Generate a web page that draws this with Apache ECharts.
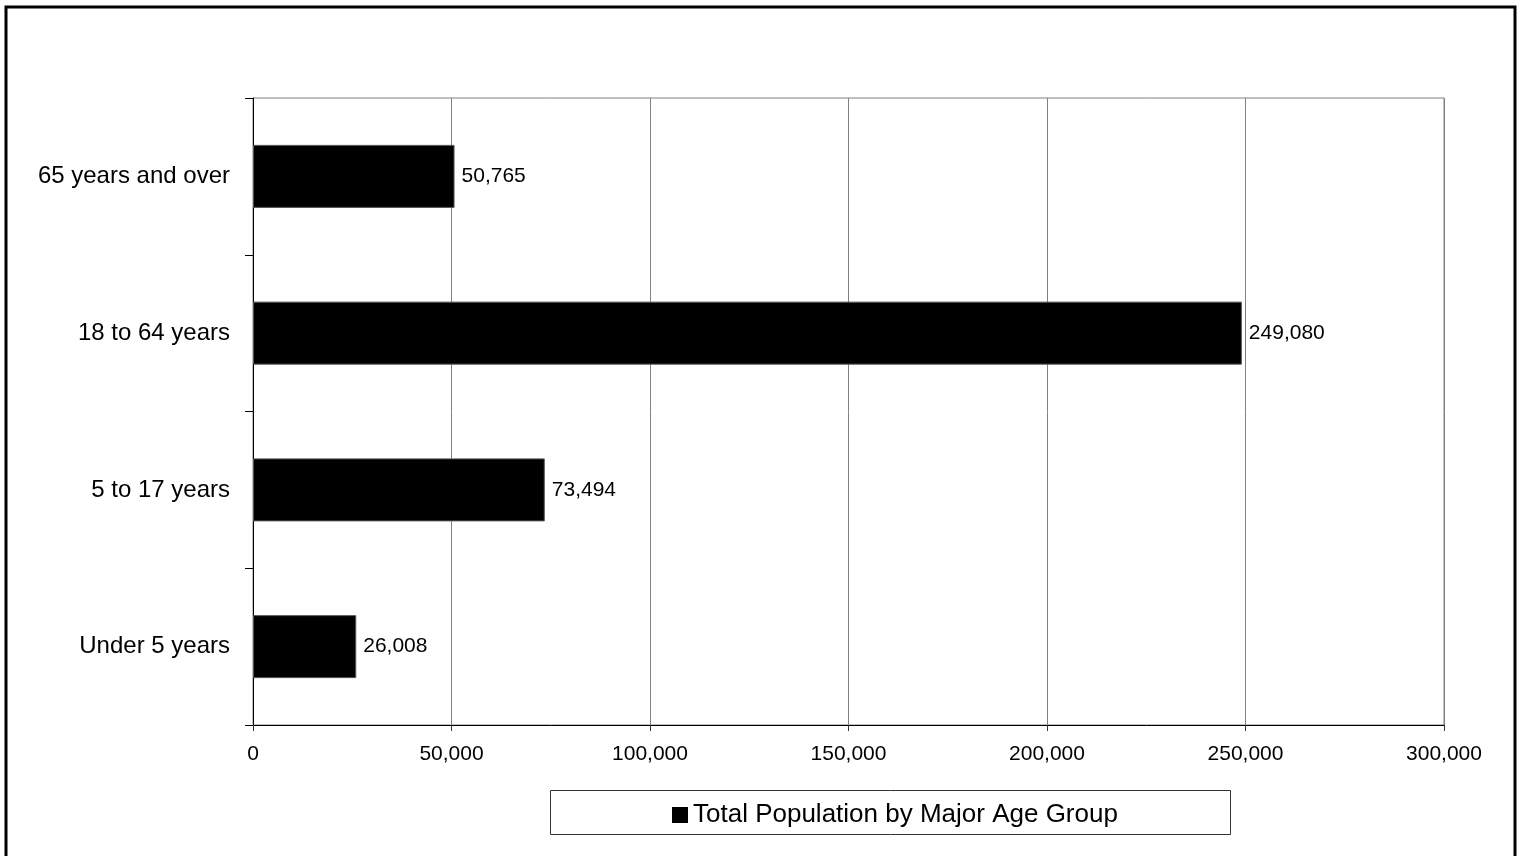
<!DOCTYPE html>
<html><head><meta charset="utf-8">
<script src="https://cdn.jsdelivr.net/npm/echarts@6/dist/echarts.min.js"></script>
<style>html,body{margin:0;padding:0;background:#fff}#c{width:1520px;height:856px}</style>
</head><body><div id="c"></div>
<script>
const categories = ['Under 5 years', '5 to 17 years', '18 to 64 years', '65 years and over'];
const values = [26008, 73494, 249080, 50765];
const seriesName = 'Total Population by Major Age Group';
const xTicks = [0, 50000, 100000, 150000, 200000, 250000, 300000];

const fmt = v => v.toLocaleString('en-US');
const chart = echarts.init(document.getElementById('c'), null, {renderer: 'canvas'});
chart.setOption({
  animation: false,
  backgroundColor: '#fff',
  textStyle: {fontFamily: 'Liberation Sans, Arial, sans-serif', color: '#000'},
  graphic: [
    {type: 'rect', shape: {x: 6, y: 7, width: 1509, height: 880}, style: {fill: 'none', stroke: '#000', lineWidth: 3}, z: 100},
    {type: 'rect', shape: {x: 550.5, y: 790.5, width: 680, height: 44}, style: {fill: '#fff', stroke: '#333', lineWidth: 1}, z: 0}
  ],
  grid: {left: 253, top: 98, width: 1191, height: 627, show: true, borderColor: '#808080', borderWidth: 1, containLabel: false},
  legend: {
    data: [seriesName], left: 667, top: 797, itemWidth: 16, itemHeight: 16, itemGap: 6,
    icon: 'rect', itemStyle: {borderWidth: 0},
    textStyle: {fontSize: 26, color: '#000', fontFamily: 'Liberation Sans, Arial, sans-serif'}, z: 10
  },
  xAxis: {
    type: 'value', min: xTicks[0], max: xTicks[xTicks.length - 1], interval: 50000,
    axisLine: {show: true, lineStyle: {color: '#000', width: 1}},
    axisTick: {show: true, length: 6, lineStyle: {color: '#333'}},
    axisLabel: {fontSize: 21, color: '#000', margin: 19, formatter: v => fmt(v)},
    splitLine: {show: true, lineStyle: {color: '#808080', width: 1}}
  },
  yAxis: {
    type: 'category', data: categories,
    axisLine: {show: true, lineStyle: {color: '#000', width: 1}},
    axisTick: {show: true, length: 8, lineStyle: {color: '#000'}},
    axisLabel: {fontSize: 24, color: '#000', margin: 23},
    splitLine: {show: false}
  },
  series: [{
    name: seriesName, type: 'bar', data: values, barWidth: 63,
    itemStyle: {color: '#000', borderColor: '#555', borderWidth: 1},
    label: {show: true, position: 'right', distance: 7, fontSize: 21, color: '#000', formatter: p => fmt(p.value)}
  }]
});
</script></body></html>
